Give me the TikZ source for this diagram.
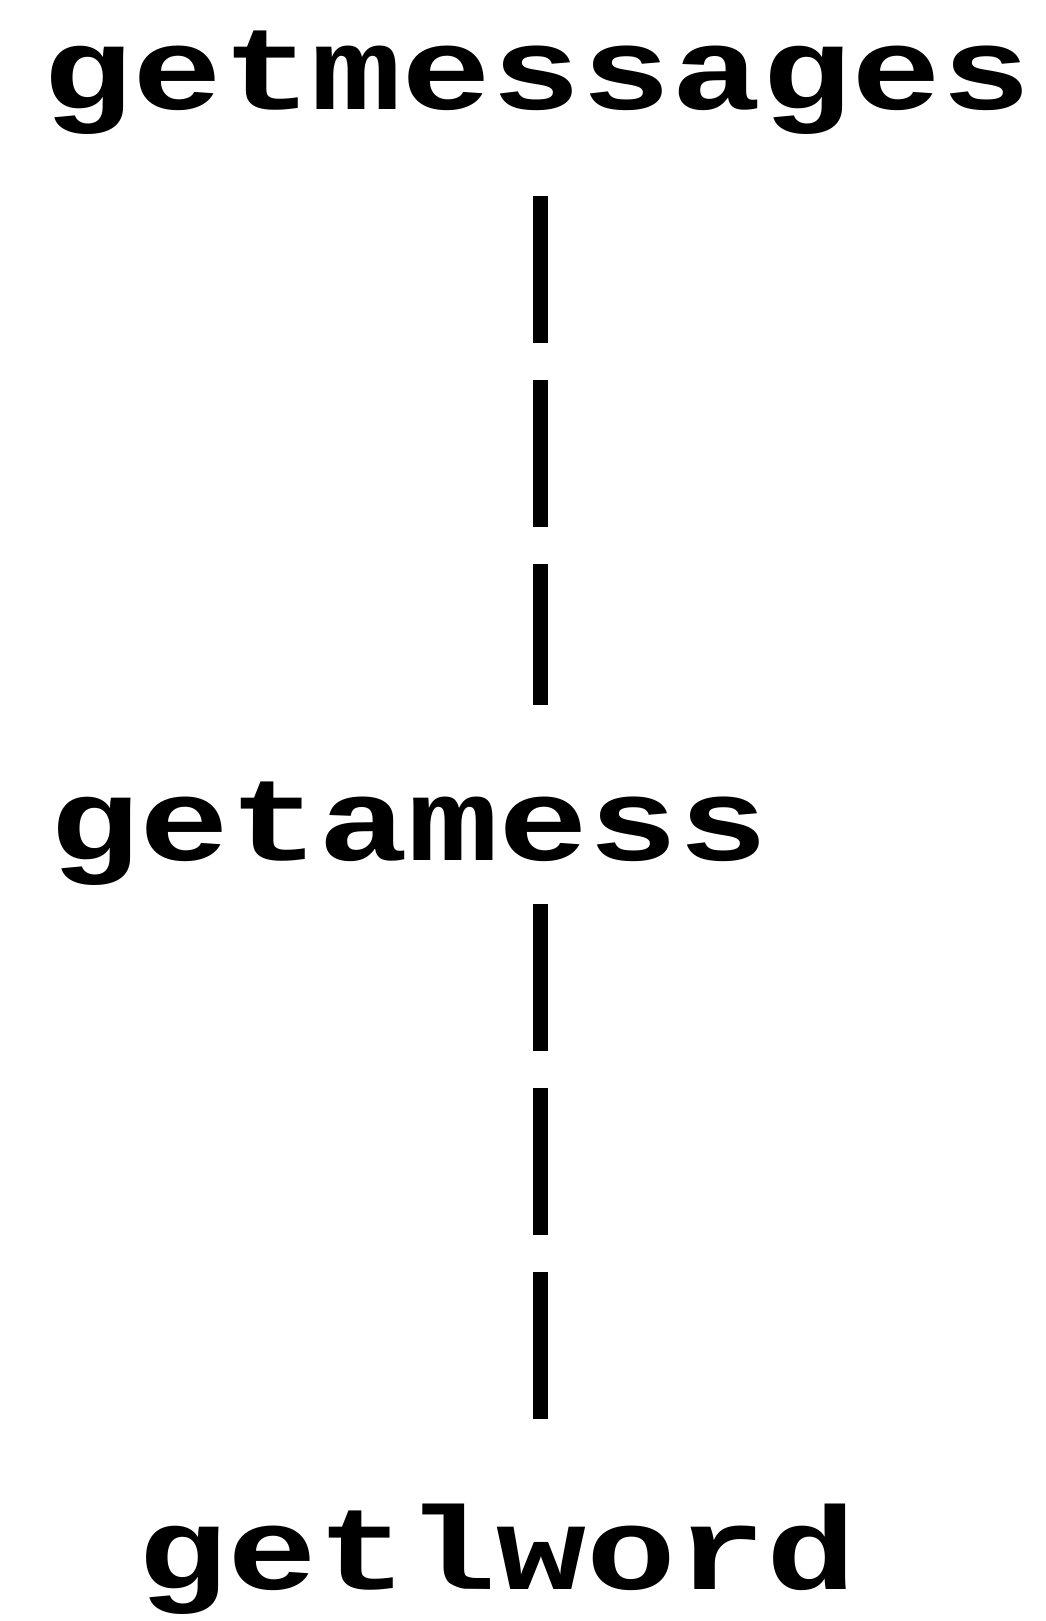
\documentclass[tikz,border=0pt]{standalone}
\usepackage{fontspec}
\usepackage{tikz}
\usetikzlibrary{positioning, calc}
\newfontfamily\codefont[FakeStretch=1.27]{Liberation Mono}
\tikzstyle{procname} = [inner sep=0pt, anchor=base west, text height=88pt, text depth=18pt, font=\codefont\bfseries\fontsize{118}{120}\selectfont]
\tikzstyle{calllink} = [line width=15pt, dash pattern=on 147pt off 37pt, draw=black]

\begin{document}
\begin{tikzpicture}[x=1pt, y=-1pt]
    \useasboundingbox (0,0) rectangle (1045,1621);
    % Call chain
    \coordinate (axis) at (540,0);
    \node[procname] (msgs) at (42,110) {getmessages};
    \node[procname] (amess) at (49,860) {getamess};
    \node[procname] (lword) at (137,1589) {getlword};

    % Links
    \draw[calllink, shorten <=68pt, shorten >=67pt] (msgs.south -| axis) -- (amess.north -| axis);
    \draw[calllink, shorten <=26pt, shorten >=67pt] (amess.south -| axis) -- (lword.north -| axis);
\end{tikzpicture}
\end{document}
